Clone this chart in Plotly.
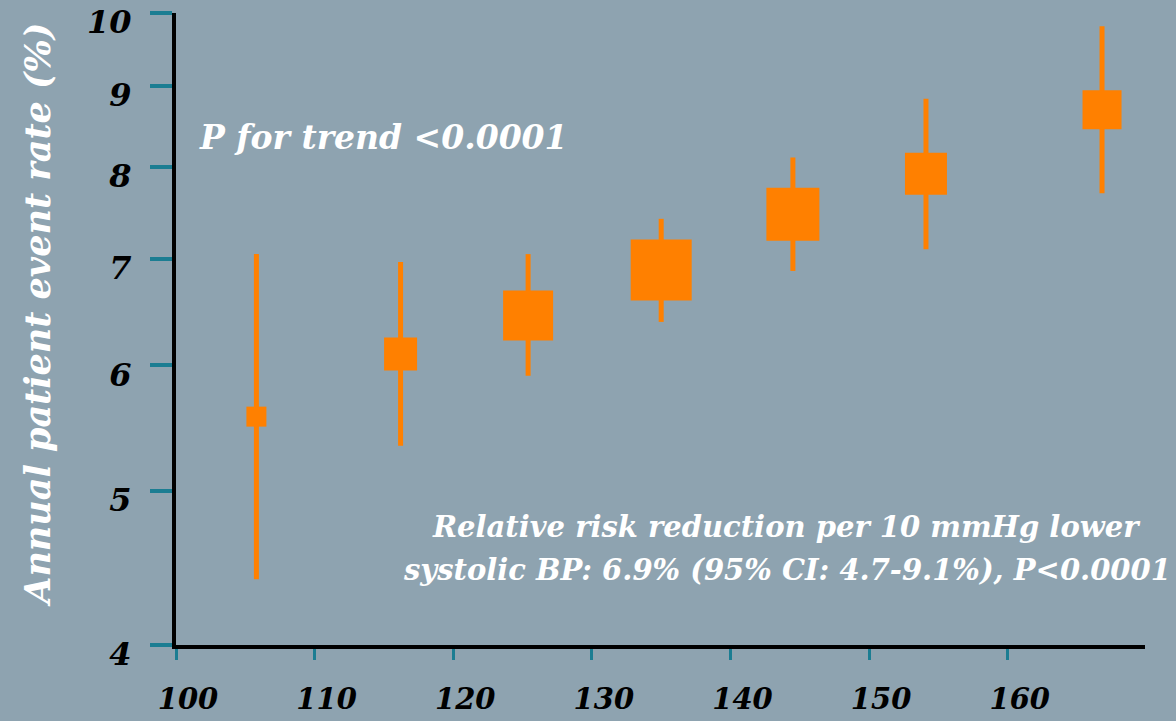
import plotly.graph_objects as go

# Systolic BP group midpoints (mmHg) and annual event rate (%) with 95% CI
sbp_mid = [105.8, 116.2, 125.4, 135.0, 144.5, 154.1, 166.8]
event_rate = [5.57, 6.10, 6.45, 6.89, 7.47, 7.92, 8.69]
ci_low = [4.40, 5.34, 5.91, 6.39, 6.88, 7.10, 7.70]
ci_high = [7.05, 6.97, 7.05, 7.42, 8.11, 8.83, 9.81]

x_ticks = [100, 110, 120, 130, 140, 150, 160]
x_tick_labels = ["100", "110", "120", "130", "140", "150", "160"]
y_ticks = [4, 5, 6, 7, 8, 9, 10]
y_tick_labels = ["4", "5", "6", "7", "8", "9", "10"]

# square side in px, proportional to the weight of each group
box_px = [20, 33, 50, 61, 53, 42, 39]

ORANGE = "#ff8000"
BG = "#8ea3b0"
TEAL = "#1b7d92"
FONT = "DejaVu Serif"

err_plus = [h - r for h, r in zip(ci_high, event_rate)]
err_minus = [r - l for r, l in zip(event_rate, ci_low)]

fig = go.Figure(
    go.Scatter(
        x=sbp_mid,
        y=event_rate,
        mode="markers",
        marker=dict(symbol="square", size=box_px, color=ORANGE, opacity=1,
                    line=dict(width=0)),
        error_y=dict(
            type="data",
            symmetric=False,
            array=err_plus,
            arrayminus=err_minus,
            thickness=5,
            width=0,
            color=ORANGE,
        ),
        showlegend=False,
        hoverinfo="x+y",
    )
)


def white_text(text, x, y, size, xanchor="left", angle=0):
    return dict(
        text=text,
        xref="paper", yref="paper",
        x=x, y=y,
        xanchor=xanchor, yanchor="middle",
        textangle=angle,
        showarrow=False,
        font=dict(family=FONT, size=size, color="white", weight="bold", style="italic"),
    )


fig.update_layout(
    width=1176,
    height=721,
    margin=dict(l=176, r=31, t=13, b=76, autoexpand=False),
    paper_bgcolor=BG,
    plot_bgcolor=BG,
    font=dict(family=FONT),
    xaxis=dict(
        range=[100, 169.9],
        tickvals=x_ticks,
        ticktext=x_tick_labels,
        automargin=False,
        showgrid=False,
        zeroline=False,
        showline=True,
        linecolor="black",
        linewidth=4,
        ticks="outside",
        ticklen=11,
        tickwidth=3,
        tickcolor=TEAL,
        ticklabelstandoff=14,
        ticklabelshift=12,
        ticklabeloverflow="allow",
        tickfont=dict(family=FONT, size=29, color="black", weight="bold", style="italic"),
    ),
    yaxis=dict(
        type="log",
        range=[0.60206, 1.0],
        tickvals=y_ticks,
        ticktext=y_tick_labels,
        automargin=False,
        showgrid=False,
        zeroline=False,
        showline=True,
        linecolor="black",
        linewidth=4,
        ticks="outside",
        ticklen=22,
        tickwidth=4,
        tickcolor=TEAL,
        ticklabelstandoff=12,
        ticklabelshift=9,
        ticklabeloverflow="allow",
        tickfont=dict(family=FONT, size=32, color="black", weight="bold", style="italic"),
    ),
    annotations=[
        white_text("Annual patient event rate (%)", -0.1424, 0.5226, 35,
                   xanchor="center", angle=-90),
        white_text("P for trend <0.0001", 0.0217, 0.8027, 33),
        white_text("Relative risk reduction per 10 mmHg lower", 0.6305, 0.187, 29,
                   xanchor="center"),
        white_text("systolic BP: 6.9% (95% CI: 4.7-9.1%), P<0.0001", 0.6305, 0.119, 29,
                   xanchor="center"),
    ],
)

fig.write_html("out.html")
